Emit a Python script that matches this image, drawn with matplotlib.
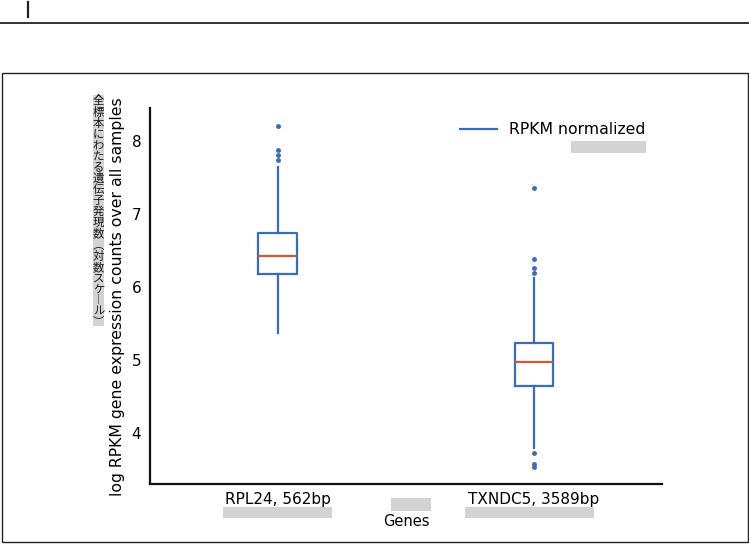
import matplotlib
import matplotlib.pyplot as plt
from matplotlib.lines import Line2D
from matplotlib.patches import Rectangle

matplotlib.use('Agg')

# data
genes = ['RPL24, 562bp', 'TXNDC5, 3589bp']
q1 = [6.18, 4.65]
med = [6.42, 4.97]
q3 = [6.74, 5.24]
whislo = [5.37, 3.79]
whishi = [7.64, 6.12]
fliers = [
    [8.21, 7.88, 7.81, 7.74],
    [7.36, 6.38, 6.26, 6.19, 3.73, 3.58, 3.53],
]
ytick_vals = [4, 5, 6, 7, 8]

ylabel_en = 'log RPKM gene expression counts over all samples'
ylabel_ja = '全標本にわたる遺伝子発現数︵対数スケ︱ル︶'
legend_label = 'RPKM normalized'

W, H = 749, 544
blue = '#3a6db2'
red = '#d4572a'
gray = '#d3d3d3'

fig = plt.figure(figsize=(W / 100, H / 100), dpi=100)

# page decorations
fig.add_artist(Line2D([0, 1], [1 - 23 / H, 1 - 23 / H], color='#222222', lw=1.3))
fig.add_artist(Line2D([28 / W, 28 / W], [1 - 2 / H, 1 - 17 / H], color='#222222', lw=1.6))
fig.add_artist(Rectangle((1.5 / W, 2 / H), 746 / W, 469 / H, fill=False,
                         edgecolor='#222222', lw=1.0))

ax = fig.add_axes([149.5 / W, 60.5 / H, 512.5 / W, 375.5 / H])

stats = []
for i in range(len(genes)):
    stats.append(dict(q1=q1[i], med=med[i], q3=q3[i], whislo=whislo[i],
                      whishi=whishi[i], fliers=fliers[i], label=genes[i]))

ax.bxp(stats, positions=[1, 2], widths=0.15, showcaps=False,
       boxprops=dict(color=blue, lw=1.6),
       whiskerprops=dict(color=blue, lw=1.6),
       medianprops=dict(color=red, lw=1.6),
       flierprops=dict(marker='o', markersize=2.5, markerfacecolor=blue,
                       markeredgecolor=blue))

ax.set_xlim(0.5, 2.5)
ax.set_ylim(3.31, 8.45)
ax.set_yticks(ytick_vals)
ax.tick_params(length=0, labelsize=11, pad=6)
for s in ['top', 'right']:
    ax.spines[s].set_visible(False)
for s in ['left', 'bottom']:
    ax.spines[s].set_linewidth(1.6)
    ax.spines[s].set_color('#111111')

ax.set_xlabel('Genes', fontsize=10.5)
ax.xaxis.set_label_coords((406 - 149.5) / 512.5, -(521 - 483.5) / 375.5)
ax.xaxis.label.set_va('center')
ax.set_ylabel(ylabel_en, fontsize=11.3)
ax.yaxis.set_label_coords(-(149.5 - 118) / 512.5, (483.5 - 297) / 375.5)
ax.yaxis.label.set_va('center')

ax.plot([], [], color=blue, lw=1.6, label=legend_label)
ax.legend(loc='upper right', frameon=False, fontsize=11.3,
          bbox_to_anchor=(0.995, 1.0), handlelength=2.3)

# vertical Japanese label with grey background
fig.text(98.5 / W, 1 - 95 / H, '\n'.join(ylabel_ja), fontsize=8.2,
         family=['Noto Sans CJK JP', 'DejaVu Sans'], ha='center', va='top',
         linespacing=1.08, color='#1a1a1a',
         bbox=dict(facecolor=gray, edgecolor='none', pad=0))

# grey placeholder boxes
for x0, y0, w, h in [(223, 507, 109, 11), (465, 507, 129, 11),
                     (391, 498, 40, 13), (571, 141, 75, 12)]:
    fig.add_artist(Rectangle((x0 / W, 1 - (y0 + h) / H), w / W, h / H,
                             facecolor=gray, edgecolor='none'))

fig.savefig('out.png', dpi=100)
